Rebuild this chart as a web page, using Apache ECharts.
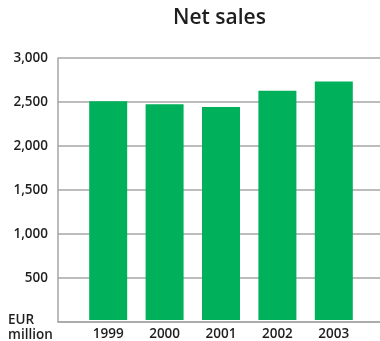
<!DOCTYPE html>
<html>
<head>
<meta charset="utf-8">
<script src="https://cdn.jsdelivr.net/npm/echarts@6/dist/echarts.min.js"></script>
<style>
  html, body { margin: 0; padding: 0; background: #fff; }
  #chart { width: 380px; height: 341px; }
</style>
</head>
<body>
<div id="chart"></div>
<script>
// Net sales, EUR million
const years = ['1999', '2000', '2001', '2002', '2003'];
const netSales = [2505, 2470, 2440, 2625, 2730];
const yTicks = [0, 500, 1000, 1500, 2000, 2500, 3000];
const titleText = 'Net sales';
const unitText = 'EUR\nmillion';

const FONT = '"Open Sans", "DejaVu Sans", sans-serif';
const TEXT = '#1e1e1e';
const LINE = '#a6a6a6';

const chart = echarts.init(document.getElementById('chart'), null, { renderer: 'canvas' });

chart.setOption({
  animation: false,
  backgroundColor: '#ffffff',
  grid: [
    // frame: axis lines and gridlines run to the right edge
    { left: 58, right: 0, top: 58, bottom: 19 },
    // bars
    { left: 80, right: 18, top: 58, bottom: 19 }
  ],
  xAxis: [
    {
      gridIndex: 0, type: 'value', min: 0, max: 1,
      axisLine: { show: true, onZero: false, lineStyle: { color: LINE, width: 1.5 } },
      axisTick: { show: false }, axisLabel: { show: false }, splitLine: { show: false }
    },
    {
      gridIndex: 1, type: 'category', data: years,
      axisLine: { show: false }, axisTick: { show: false },
      axisLabel: { fontFamily: FONT, fontSize: 13.5, fontWeight: 600, color: TEXT, margin: 7 }
    }
  ],
  yAxis: [
    {
      gridIndex: 0, type: 'value', min: yTicks[0], max: yTicks[yTicks.length - 1], interval: 500,
      axisLine: { show: true, lineStyle: { color: LINE, width: 1.5 } },
      axisTick: { show: false },
      splitLine: { show: true, lineStyle: { color: LINE, width: 1.5 } },
      axisLabel: {
        fontFamily: FONT, fontSize: 13.5, fontWeight: 600, color: TEXT, margin: 10,
        formatter: v => (v === 0 ? '' : v.toLocaleString('en-US'))
      }
    },
    {
      gridIndex: 1, type: 'value', min: yTicks[0], max: yTicks[yTicks.length - 1],
      show: false
    }
  ],
  graphic: [
    {
      type: 'text', x: 219.5, y: 8,
      style: {
        text: titleText, font: '600 21px ' + FONT, fill: TEXT, align: 'center', verticalAlign: 'top'
      }
    },
    {
      type: 'text', left: 8, top: 313,
      style: {
        text: unitText, font: '600 13.5px ' + FONT, fill: TEXT, lineHeight: 15
      }
    }
  ],
  series: [
    {
      type: 'bar', xAxisIndex: 1, yAxisIndex: 1,
      data: netSales, barWidth: 38,
      itemStyle: { color: '#00b05a' }
    }
  ]
});
</script>
</body>
</html>
